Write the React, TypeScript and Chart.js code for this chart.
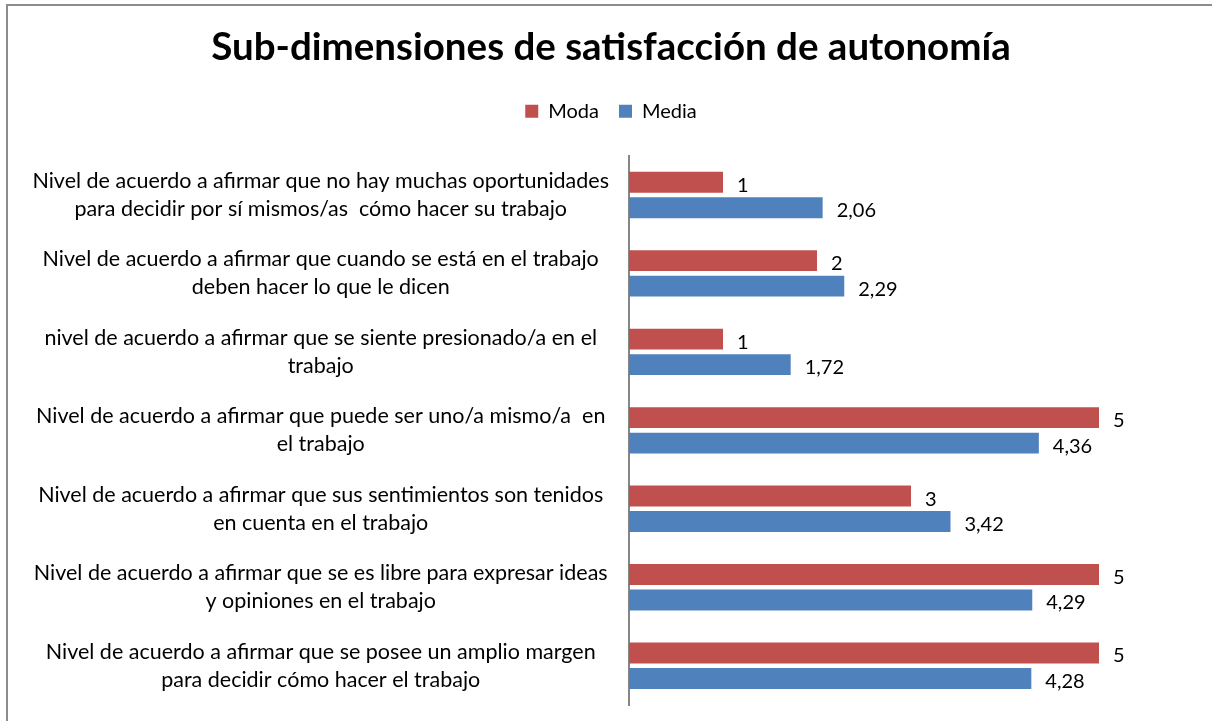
import React, { useEffect, useRef } from "react";
import { Chart, registerables } from "chart.js";

Chart.register(...registerables);

const categories: string[][] = [
  ["Nivel de acuerdo a afirmar que no hay muchas oportunidades", "para decidir por sí mismos/as  cómo hacer su trabajo"],
  ["Nivel de acuerdo a afirmar que cuando se está en el trabajo", "deben hacer lo que le dicen"],
  ["nivel de acuerdo a afirmar que se siente presionado/a en el", "trabajo"],
  ["Nivel de acuerdo a afirmar que puede ser uno/a mismo/a  en", "el trabajo"],
  ["Nivel de acuerdo a afirmar que sus sentimientos son tenidos", "en cuenta en el trabajo"],
  ["Nivel de acuerdo a afirmar que se es libre para expresar ideas", "y opiniones en el trabajo"],
  ["Nivel de acuerdo a afirmar que se posee un amplio margen", "para decidir cómo hacer el trabajo"],
];
const modaValues: number[] = [1, 2, 1, 5, 3, 5, 5];
const mediaValues: number[] = [2.06, 2.29, 1.72, 4.36, 3.42, 4.29, 4.28];

const FONT = "Lato";

const frameBorder = {
  id: "frameBorder",
  beforeDraw(chart: any) {
    const { ctx, width, height } = chart;
    ctx.save();
    ctx.fillStyle = "#ffffff";
    ctx.fillRect(0, 0, width, height);
    ctx.strokeStyle = "#8c8c8c";
    ctx.lineWidth = 2;
    ctx.beginPath();
    ctx.moveTo(7, height);
    ctx.lineTo(7, 5);
    ctx.lineTo(width, 5);
    ctx.stroke();
    ctx.restore();
  },
};

const valueLabels = {
  id: "valueLabels",
  afterDatasetsDraw(chart: any) {
    const { ctx } = chart;
    ctx.save();
    ctx.font = `20px ${FONT}`;
    ctx.fillStyle = "#000";
    ctx.textAlign = "left";
    ctx.textBaseline = "middle";
    chart.data.datasets.forEach((ds: any, di: number) => {
      const meta = chart.getDatasetMeta(di);
      meta.data.forEach((bar: any, i: number) => {
        const v = ds.data[i] as number;
        const txt = Number.isInteger(v) ? String(v) : v.toFixed(2).replace(".", ",");
        ctx.fillText(txt, bar.x + 14, bar.y + 3);
      });
    });
    ctx.restore();
  },
};

export default function App() {
  const ref = useRef<HTMLCanvasElement>(null);
  useEffect(() => {
    if (!ref.current) return;
    const chart = new Chart(ref.current, {
      type: "bar",
      data: {
        labels: categories,
        datasets: [
          {
            label: "Moda",
            data: modaValues,
            backgroundColor: "#C0504D",
            xAxisID: "x",
            yAxisID: "y",
            categoryPercentage: 0.65,
            barPercentage: 0.82,
          },
          {
            label: "Media",
            data: mediaValues,
            backgroundColor: "#4F81BD",
            xAxisID: "x",
            yAxisID: "y",
            categoryPercentage: 0.65,
            barPercentage: 0.82,
          },
        ],
      },
      options: {
        indexAxis: "y",
        responsive: false,
        animation: false,
        devicePixelRatio: 1,
        layout: { padding: { top: 0, right: 0, bottom: 16, left: 10 } },
        scales: {
          x: {
            position: "top",
            min: 0,
            max: 5,
            grid: { display: false },
            border: { display: false },
            ticks: { display: false },
            afterFit(s: any) {
              s.height = 24.5;
              s.paddingLeft = 0;
              s.paddingRight = 0;
            },
          },
          y: {
            position: "left",
            grid: { display: false },
            border: { display: true, color: "#868686", width: 2 },
            ticks: {
              crossAlign: "center",
              padding: 12,
              color: "#000",
              font: { family: FONT, size: 21.5, lineHeight: 1.3 },
            },
            afterFit(s: any) {
              s.width = 619;
              s.paddingTop = 0;
              s.paddingBottom = 0;
            },
          },
          y2: {
            type: "category",
            position: "right",
            grid: { display: false },
            border: { display: false },
            ticks: { display: false },
            afterFit(s: any) {
              s.width = 113;
              s.paddingTop = 0;
              s.paddingBottom = 0;
            },
          },
        },
        plugins: {
          title: {
            display: true,
            text: "Sub-dimensiones de satisfacción de autonomía",
            color: "#000",
            font: { family: FONT, size: 38.5, weight: "bold", lineHeight: 1.2 },
            padding: { top: 24, bottom: 11 },
          },
          legend: {
            display: true,
            labels: {
              boxWidth: 13,
              boxHeight: 13,
              padding: 20,
              color: "#000",
              font: { family: FONT, size: 20 },
            },
          },
          tooltip: { enabled: false },
        },
      },
      plugins: [frameBorder, valueLabels],
    });
    return () => chart.destroy();
  }, []);
  return (
    <div style={{ position: "fixed", left: 0, top: 0, width: 1212, height: 721 }}>
      <canvas ref={ref} width={1212} height={721} />
    </div>
  );
}
